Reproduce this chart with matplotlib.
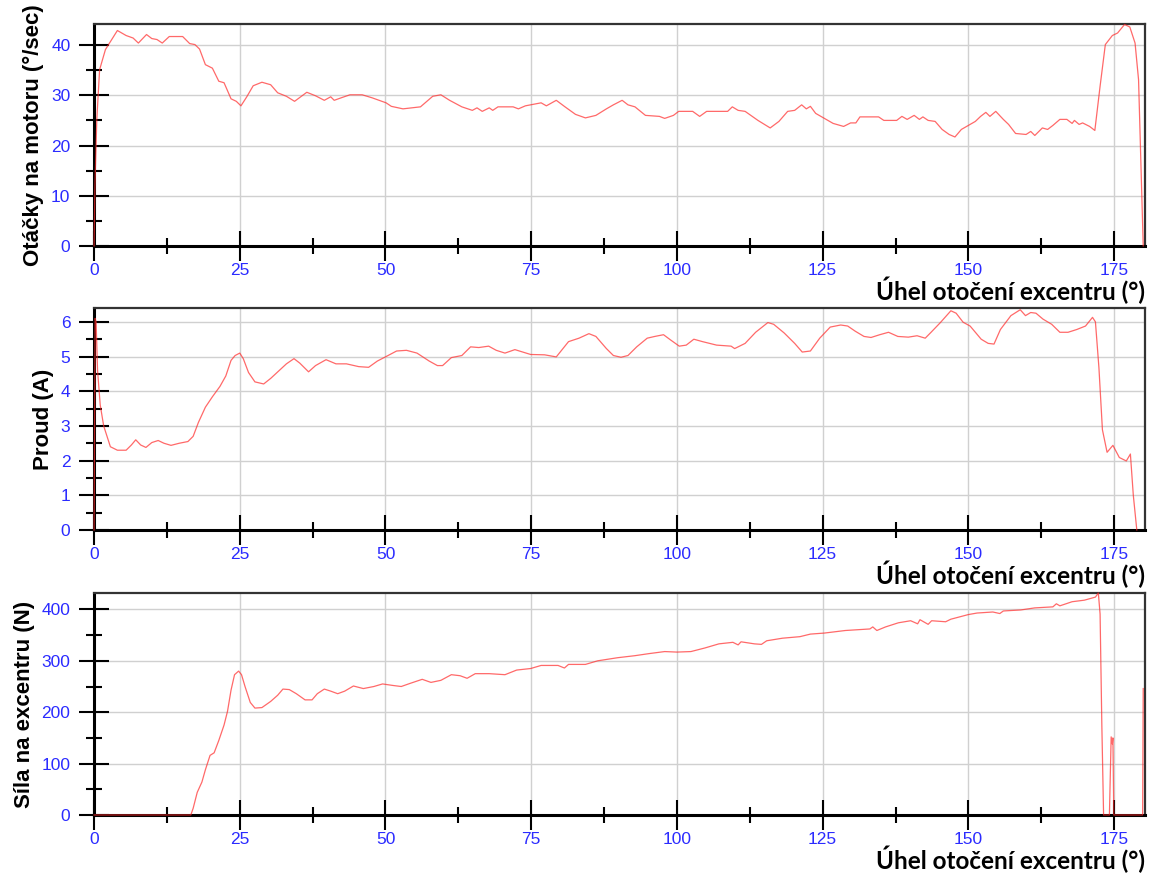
import matplotlib
matplotlib.use("Agg")
import matplotlib.pyplot as plt
from matplotlib.ticker import MultipleLocator

# otacky motoru (deg/s) vs uhel excentru
speed_x = [0, 0.15, 0.47, 0.95, 1.95, 4.0, 5.5, 6.7, 7.6, 9.0, 9.9, 10.8, 11.7, 12.9, 15.2,
           16.4, 17.3, 18.1, 19.1, 20.3, 21.4, 22.3, 23.5, 24.4, 25.2, 26.2, 27.3, 28.8,
           30.3, 31.5, 33.0, 34.4, 36.5, 38.0, 39.5, 40.6, 41.2, 42.4, 43.9, 46.0, 47.7,
           50.1, 51.0, 53.0, 56.0, 58.1, 59.5, 61.0, 63.1, 64.9, 65.7, 66.6, 67.8, 68.4,
           69.3, 71.9, 72.8, 74.0, 76.7, 77.6, 79.3, 80.8, 82.6, 84.3, 86.1, 87.9, 89.1,
           90.6, 91.6, 92.8, 94.6, 97.0, 97.9, 99.4, 100.3, 102.7, 103.9, 105.1, 108.7,
           109.5, 110.5, 111.7, 113.9, 116.0, 117.5, 119.0, 120.2, 121.4, 122.2, 122.9,
           123.8, 124.7, 125.6, 126.8, 128.6, 129.8, 130.7, 131.4, 133.1, 134.6, 135.5,
           137.7, 138.6, 139.5, 140.7, 141.6, 142.2, 143.1, 144.3, 145.5, 146.7, 147.7,
           148.8, 150.3, 151.2, 152.1, 153.0, 153.7, 154.7, 156.0, 156.9, 158.1, 159.9,
           160.7, 161.4, 162.7, 163.6, 164.5, 165.7, 166.9, 167.8, 168.2, 169.0, 169.6,
           170.8, 171.7, 172.6, 173.5, 174.7, 175.6, 176.8, 177.7, 178.6, 179.2, 180.0]
speed_y = [0, 12, 25.2, 35.1, 39.1, 42.9, 41.9, 41.4, 40.4, 42.1, 41.3, 41.1, 40.4, 41.7, 41.7,
           40.3, 40.1, 39.2, 36.1, 35.4, 32.8, 32.5, 29.3, 28.8, 27.9, 29.7, 31.9, 32.6,
           32.1, 30.5, 29.8, 28.8, 30.6, 29.9, 29.0, 29.7, 29.0, 29.5, 30.1, 30.1, 29.5,
           28.5, 27.8, 27.3, 27.7, 29.8, 30.1, 29.0, 27.7, 27.0, 27.5, 26.8, 27.5, 27.0,
           27.7, 27.7, 27.3, 27.9, 28.5, 27.9, 29.0, 27.7, 26.2, 25.5, 26.0, 27.3, 28.1,
           29.0, 28.1, 27.7, 26.0, 25.8, 25.4, 26.0, 26.8, 26.8, 25.8, 26.8, 26.8,
           27.7, 27.0, 26.8, 25.0, 23.5, 24.8, 26.8, 27.0, 28.1, 27.3, 27.8,
           26.4, 25.8, 25.2, 24.4, 23.8, 24.5, 24.5, 25.7, 25.7, 25.7, 25.0,
           25.0, 25.8, 25.2, 26.0, 25.2, 25.7, 25.0, 24.8, 23.2, 22.2, 21.7,
           23.2, 24.2, 24.8, 25.8, 26.6, 25.8, 26.8, 25.2, 24.2, 22.4, 22.2,
           22.8, 22.0, 23.5, 23.2, 24.0, 25.2, 25.2, 24.4, 25.0, 24.2, 24.5,
           23.8, 23.0, 31.8, 40.1, 41.9, 42.4, 44.1, 43.6, 40.4, 33.1, 0]

# proud (A)
current_x = [0, 0.18, 0.35, 0.6, 1.06, 1.65, 2.8, 4.0, 5.5, 6.4, 7.15, 8.0, 8.9, 9.9, 11.0,
             12.0, 13.2, 14.6, 16.1, 17.0, 17.9, 19.1, 20.3, 21.6, 22.6, 23.5, 24.2, 25.0,
             25.6, 26.5, 27.6, 29.1, 30.3, 31.7, 33.0, 34.3, 35.3, 36.8, 38.0, 39.8, 41.5,
             43.3, 45.4, 47.1, 48.6, 50.1, 51.9, 53.6, 55.4, 57.5, 58.9, 59.8, 61.3, 63.1,
             64.6, 66.0, 67.7, 69.0, 70.5, 72.2, 74.9, 77.3, 79.3, 81.4, 83.2, 84.9, 86.1,
             87.9, 89.1, 90.4, 91.6, 93.1, 94.9, 96.2, 97.7, 98.9, 100.4, 101.6, 102.9,
             104.4, 106.8, 109.3, 109.9, 111.7, 113.5, 115.6, 116.6, 118.4, 120.2, 121.5,
             122.9, 124.5, 126.3, 128.1, 129.3, 130.6, 132.1, 133.3, 134.8, 136.3, 137.9,
             139.7, 141.2, 142.6, 143.6, 145.2, 147.0, 147.9, 149.1, 150.3, 152.2, 153.4,
             154.4, 155.5, 157.3, 158.9, 159.8, 160.7, 161.6, 162.8, 164.3, 165.7, 167.1,
             168.6, 170.1, 171.3, 171.8, 172.4, 173.0, 173.8, 174.8, 175.9, 177.1, 177.8,
             178.3, 178.9]
current_y = [0, 6.1, 6.0, 4.6, 3.6, 3.0, 2.4, 2.3, 2.3, 2.45, 2.6, 2.45, 2.38, 2.52, 2.58,
             2.5, 2.44, 2.5, 2.55, 2.7, 3.1, 3.54, 3.84, 4.14, 4.44, 4.89, 5.03, 5.1,
             4.94, 4.54, 4.27, 4.21, 4.37, 4.59, 4.79, 4.94, 4.81, 4.56, 4.74, 4.91, 4.79,
             4.79, 4.71, 4.69, 4.87, 5.0, 5.16, 5.18, 5.1, 4.87, 4.74, 4.74, 4.97, 5.03,
             5.28, 5.26, 5.3, 5.18, 5.1, 5.2, 5.06, 5.05, 4.99, 5.43, 5.53, 5.66, 5.58,
             5.23, 5.03, 4.98, 5.03, 5.28, 5.53, 5.58, 5.63, 5.48, 5.3, 5.33, 5.5,
             5.43, 5.33, 5.3, 5.23, 5.38, 5.7, 5.98, 5.93, 5.68, 5.38, 5.13,
             5.16, 5.53, 5.85, 5.91, 5.88, 5.73, 5.58, 5.55, 5.63, 5.7, 5.58,
             5.56, 5.6, 5.53, 5.7, 5.98, 6.32, 6.25, 5.99, 5.88, 5.5, 5.38,
             5.36, 5.78, 6.18, 6.35, 6.18, 6.27, 6.25, 6.08, 5.93, 5.7, 5.7,
             5.78, 5.88, 6.13, 6.0, 4.68, 2.89, 2.24, 2.44, 2.09, 1.99, 2.19,
             1.0, 0]

# sila na excentru (N)
force_x = [0, 16.6, 17.0, 17.7, 18.5, 19.1, 19.9, 20.6, 21.4, 22.3, 22.9, 23.5, 24.1, 24.8,
           25.3, 25.9, 26.8, 27.6, 28.8, 30.3, 31.5, 32.4, 33.5, 34.7, 36.2, 37.4, 38.3,
           39.5, 40.6, 41.8, 43.0, 44.5, 46.2, 48.0, 49.5, 51.3, 52.7, 54.2, 56.3, 57.8,
           59.5, 61.3, 62.8, 64.0, 65.4, 67.8, 70.5, 72.5, 74.9, 76.7, 79.6, 80.7, 81.4,
           84.3, 86.4, 89.8, 92.8, 95.2, 97.9, 100.0, 102.4, 104.8, 107.2, 109.6, 110.5,
           111.0, 113.3, 114.5, 115.4, 118.1, 121.1, 122.9, 125.3, 128.9, 133.1, 133.6,
           134.3, 135.8, 138.0, 140.1, 141.3, 141.7, 143.1, 143.7, 146.1, 147.0, 150.0,
           151.5, 154.2, 155.4, 156.0, 159.0, 161.4, 164.5, 165.1, 165.7, 167.8, 169.9,
           171.8, 172.3, 172.6, 172.9, 173.2, 174.2, 174.5, 174.7, 174.8, 174.95, 179.9,
           180.0]
force_y = [0, 0, 13, 44, 64, 88, 116, 121, 145, 175, 202, 243, 273, 280,
           273, 250, 219, 208, 209, 221, 233, 245, 244, 236, 224, 224, 236,
           245, 241, 236, 241, 251, 246, 250, 255, 252, 250, 256, 264, 258,
           262, 273, 271, 266, 275, 275, 273, 282, 285, 291, 291, 286, 293,
           293, 300, 306, 310, 314, 318, 317, 318, 325, 333, 336, 331,
           337, 333, 332, 339, 344, 347, 352, 354, 359, 362, 366,
           359, 366, 374, 378, 372, 380, 371, 378, 376, 381, 390,
           393, 395, 392, 397, 399, 403, 405, 411, 407, 415, 418,
           424, 432, 391, 175, 0, 0, 152, 138, 150, 0, 0,
           246]

x_ticks = [0, 25, 50, 75, 100, 125, 150, 175]
x_title = "Úhel otočení excentru (°)"

panels = [
    (speed_x, speed_y, "Otáčky na motoru (°/sec)", [0, 10, 20, 30, 40], 5, 44.2, 0.7189),
    (current_x, current_y, "Proud (A)", [0, 1, 2, 3, 4, 5, 6], 0.5, 6.4, 0.3943),
    (force_x, force_y, "Síla na excentru (N)", [0, 100, 200, 300, 400], 50, 432, 0.0686),
]

fig = plt.figure(figsize=(11.57, 8.75), dpi=100)
for xs, ys, ylab, yticks, yminor, ytop, bottom in panels:
    ax = fig.add_axes([0.0813, bottom, 0.9083, 0.2537])
    ax.plot(xs, ys, color="#ff2a2a", linewidth=0.9, alpha=0.7, zorder=3, clip_on=False)
    ax.set_xlim(0, 180.3)
    ax.set_ylim(0, ytop)
    ax.set_xticks(x_ticks)
    ax.set_yticks(yticks)
    ax.xaxis.set_minor_locator(MultipleLocator(12.5))
    ax.yaxis.set_minor_locator(MultipleLocator(yminor))
    ax.grid(True, which="major", color="#d0d0d0", linewidth=1.0)
    ax.set_axisbelow(True)
    ax.tick_params(which="major", direction="inout", length=22, width=1.5, colors="black",
                   labelcolor="#2b2bff", labelsize=12.5)
    ax.tick_params(axis="x", which="major", pad=1)
    ax.tick_params(axis="y", which="major", pad=6)
    ax.tick_params(which="minor", direction="inout", length=11, width=1.5, colors="black")
    for lbl in ax.get_xticklabels() + ax.get_yticklabels():
        lbl.set_family("Liberation Sans")
    for side in ["left", "bottom"]:
        ax.spines[side].set_linewidth(2.2)
        ax.spines[side].set_color("black")
    for side in ["top", "right"]:
        ax.spines[side].set_linewidth(1.6)
        ax.spines[side].set_color("#333333")
    ax.set_ylabel(ylab, fontsize=16, fontweight="bold", family="Liberation Sans", labelpad=5)
    ax.set_xlabel(x_title, fontsize=17.5, fontweight="bold", family="Lato", loc="right",
                  labelpad=-1)

fig.savefig("out.png", dpi=100)
